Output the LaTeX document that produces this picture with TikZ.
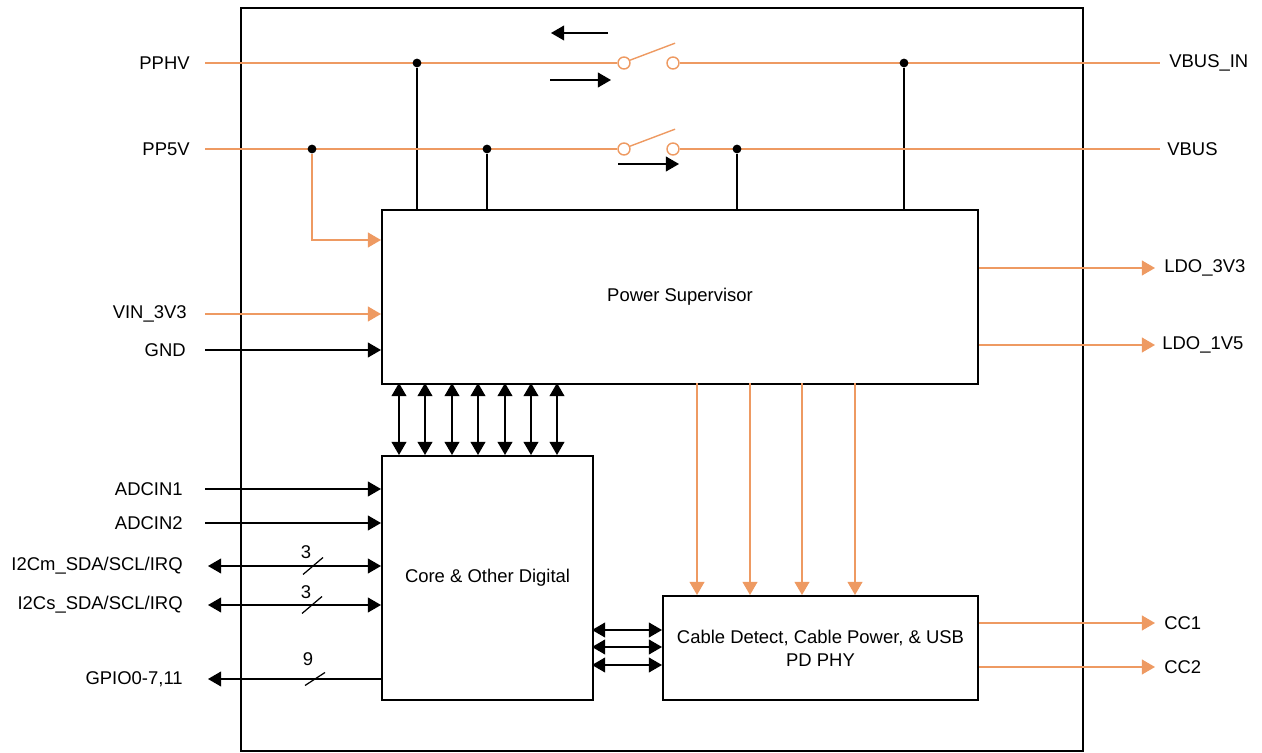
\documentclass[tikz,border=0pt]{standalone}
\usepackage{fontspec}
\setmainfont{Liberation Sans}
\usetikzlibrary{arrows.meta,positioning}
\definecolor{pwrcolor}{RGB}{238,154,98}
\tikzset{
     block/.style = {draw, line width=1.2pt, align=center, anchor=north west,
                     font=\fontsize{10.5}{13}\selectfont},
       lbl/.style = {inner sep=0pt, font=\fontsize{10.5}{13}\selectfont},
       sig/.style = {line width=0.7pt, black},
       pwr/.style = {line width=0.8pt, pwrcolor},
       arr/.style = {sig, -{Triangle[length=7.5pt,width=8.5pt]}},   % one-way signal
      darr/.style = {sig, {Triangle[length=7.5pt,width=8.5pt]}-{Triangle[length=7.5pt,width=8.5pt]}},
      parr/.style = {pwr, -{Triangle[length=7.5pt,width=8.5pt]}},   % power arrow
       dot/.style = {circle, fill=black, inner sep=0pt, minimum size=5pt},
        sw/.style = {circle, draw=pwrcolor, fill=white, line width=0.8pt,
                     inner sep=0pt, minimum size=0.24cm},
   busmark/.style = {sig},
        }

\begin{document}
\begin{tikzpicture}[x=0.02cm, y=-0.02cm]
\useasboundingbox (0,0) rectangle (1262,753);
% chip outline
\draw[line width=1.2pt] (241,8) rectangle (1083,751);

% blocks
\node[block, minimum width=11.92cm, minimum height=3.48cm] (ps) at (381,209) {Power Supervisor};
\node[block, minimum width=4.22cm, minimum height=4.88cm] (core) at (381,455) {Core \& Other Digital};
\node[block, minimum width=6.3cm, minimum height=2.08cm] (cbl) at (662,595)
     {Cable Detect, Cable Power, \& USB\\PD PHY};

% high voltage rail
\node[lbl, anchor=east] (pphv) at (190,63) {PPHV};
\node[lbl, anchor=west] (vbusin) at (1169,63) {VBUS\_IN};
\coordinate (pphvL) at (205,63);
\coordinate (pphvR) at (1160,63);
\node[sw] (s1a) at (624,63) {};
\node[sw] (s1b) at (673,63) {};
\draw[pwr] (pphvL) -- (s1a);
\draw[pwr] (s1b) -- (pphvR);
\draw[pwr] (s1a.25) -- ++(45,-17);
\node[dot] (d1) at (417,63) {};
\node[dot] (d4) at (904,63) {};
\draw[sig] (d1) -- (d1 |- ps.north);
\draw[sig] (d4) -- (d4 |- ps.north);
\coordinate (a1) at (608,33);
\draw[arr] (a1) -- ++(-57,0);
\coordinate (a2) at (550,80);
\draw[arr] (a2) -- ++(61,0);

% 5V rail
\node[lbl, anchor=east] (pp5v) at (190,149) {PP5V};
\node[lbl, anchor=west] (vbus) at (1167,149) {VBUS};
\coordinate (pp5vL) at (205,149);
\coordinate (pp5vR) at (1160,149);
\node[sw] (s2a) at (624,149) {};
\node[sw] (s2b) at (673,149) {};
\draw[pwr] (pp5vL) -- (s2a);
\draw[pwr] (s2b) -- (pp5vR);
\draw[pwr] (s2a.25) -- ++(45,-17);
\node[dot] (d0) at (312,149) {};
\node[dot] (d2) at (487,149) {};
\node[dot] (d3) at (737,149) {};
\draw[sig] (d2) -- (d2 |- ps.north);
\draw[sig] (d3) -- (d3 |- ps.north);
\coordinate (a3) at (618,164);
\draw[arr] (a3) -- ++(61,0);
\coordinate (b0) at (312,240);
\draw[parr] (d0) -- (b0) -- (b0 -| ps.west);

% supervisor inputs
\node[lbl, anchor=east] (vin) at (187,314) {VIN\_3V3};
\coordinate (vinL) at (205,314);
\draw[parr] (vinL) -- (vinL -| ps.west);
\node[lbl, anchor=east] (gnd) at (186,350) {GND};
\coordinate (gndL) at (205,350);
\draw[arr] (gndL) -- (gndL -| ps.west);

% supervisor outputs
\coordinate (ldo3) at (1155,268);
\coordinate (ldo1) at (1155,345);
\draw[parr] (ldo3 -| ps.east) -- (ldo3);
\draw[parr] (ldo1 -| ps.east) -- (ldo1);
\node[lbl, anchor=west] (ldo3L) at (1164,268) {LDO\_3V3};
\node[lbl, anchor=west] (ldo1L) at (1162,345) {LDO\_1V5};

% supervisor <-> core bus
\foreach \x in {399,425,452,478,505,531,557} {
  \coordinate (t) at (\x,383);
  \draw[darr] (t) -- (t |- core.north);
}
% supervisor -> cable block
\foreach \x in {697,750,802,855} {
  \coordinate (p) at (\x,383);
  \draw[parr] (p) -- (p |- cbl.north);
}
% core <-> cable block
\foreach \y in {630,647,665} {
  \coordinate (q) at (592,\y);
  \draw[darr] (q) -- (q -| cbl.west);
}

% core inputs
\node[lbl, anchor=east] (adc1) at (183,489) {ADCIN1};
\coordinate (adc1L) at (205,489);
\draw[arr] (adc1L) -- (adc1L -| core.west);
\node[lbl, anchor=east] (adc2) at (183,523) {ADCIN2};
\coordinate (adc2L) at (205,523);
\draw[arr] (adc2L) -- (adc2L -| core.west);

\node[lbl, anchor=east] (i2cm) at (183,566) {I2Cm\_SDA/SCL/IRQ};
\coordinate (i2cmL) at (208,566);
\draw[darr] (i2cmL) -- (i2cmL -| core.west);
\coordinate (m1) at (313,566);
\draw[busmark] (m1) ++(-10,8.5) -- ++(20,-17);
\node[lbl] (n1) at (306,552) {3};

\node[lbl, anchor=east] (i2cs) at (183,605) {I2Cs\_SDA/SCL/IRQ};
\coordinate (i2csL) at (208,605);
\draw[darr] (i2csL) -- (i2csL -| core.west);
\coordinate (m2) at (312,605);
\draw[busmark] (m2) ++(-10,8.5) -- ++(20,-17);
\node[lbl] (n2) at (306,592) {3};

\node[lbl, anchor=east] (gpio) at (183,679) {GPIO0-7,11};
\coordinate (gpioL) at (208,679);
\draw[arr] (gpioL -| core.west) -- (gpioL);
\coordinate (m3) at (315,679);
\draw[busmark] (m3) ++(-10,6.5) -- ++(20,-13);
\node[lbl] (n3) at (308,659) {9};

% cable block outputs
\coordinate (cc1) at (1155,623);
\coordinate (cc2) at (1155,667);
\draw[parr] (cc1 -| cbl.east) -- (cc1);
\draw[parr] (cc2 -| cbl.east) -- (cc2);
\node[lbl, anchor=west] (cc1L) at (1164,623) {CC1};
\node[lbl, anchor=west] (cc2L) at (1164,667) {CC2};
\end{tikzpicture}
\end{document}
